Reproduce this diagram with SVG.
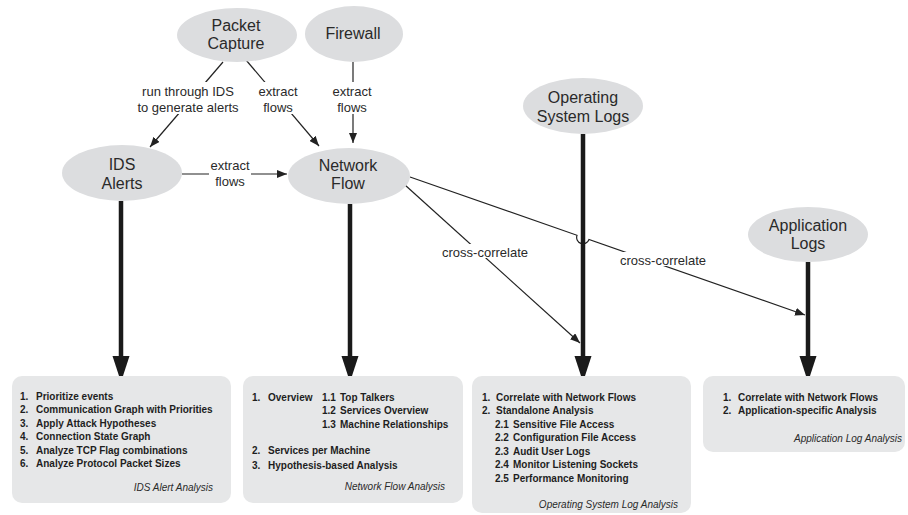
<svg xmlns="http://www.w3.org/2000/svg" width="908" height="515" viewBox="0 0 908 515">
<style>
.node{fill:#dcdddf;stroke:none}
.nl{font-family:"Liberation Sans",Arial,sans-serif;font-size:16px;fill:#2a2a2a;text-anchor:middle}
.cl{font-family:"Liberation Sans",Arial,sans-serif;font-size:13px;fill:#2a2a2a;text-anchor:middle}
.thin{stroke:#222;stroke-width:1.2;fill:none}
.thick{stroke:#1a1a1a;stroke-width:4.5;fill:none}
.head{fill:#1a1a1a;stroke:none}
.box{fill:#e6e7e8;stroke:none}
.bt{font-family:"Liberation Sans",Arial,sans-serif;font-size:10px;font-weight:bold;fill:#1e1e1e}
.tt{font-family:"Liberation Sans",Arial,sans-serif;font-size:10px;font-style:italic;fill:#2a2a2a;text-anchor:end}
.bg{fill:#ffffff}
</style>
<defs>
<marker id="ah" markerWidth="10" markerHeight="8" refX="10" refY="4" orient="auto" markerUnits="userSpaceOnUse">
<path d="M0,0 L10,4 L0,8 Z" fill="#222"/>
</marker>
</defs>

<g id="connectors">
<line class="thin" x1="223" y1="62" x2="150" y2="147" marker-end="url(#ah)"/>
<line class="thin" x1="246" y1="60" x2="319" y2="146" marker-end="url(#ah)"/>
<line class="thin" x1="353" y1="62" x2="353" y2="143" marker-end="url(#ah)"/>
<line class="thin" x1="182" y1="174" x2="287" y2="174" marker-end="url(#ah)"/>
<line class="thin" x1="405" y1="185" x2="580" y2="343" marker-end="url(#ah)"/>
<path class="thin" d="M410,177 L577,235.3 A6,6 0 0 0 589,239.5 L805,315" marker-end="url(#ah)"/>
<g id="label-bgs">
<rect class="bg" x="140" y="82" width="96" height="32"/>
<rect class="bg" x="258" y="82" width="40" height="32"/>
<rect class="bg" x="333" y="82" width="40" height="32"/>
<rect class="bg" x="209" y="156" width="42" height="32"/>
<rect class="bg" x="440" y="244" width="90" height="14"/>
<rect class="bg" x="618" y="252" width="90" height="14"/>
</g>
<text class="cl" x="188" y="96">run through IDS</text>
<text class="cl" x="188" y="112">to generate alerts</text>
<text class="cl" x="278" y="96">extract</text>
<text class="cl" x="278" y="112">flows</text>
<text class="cl" x="352" y="96">extract</text>
<text class="cl" x="352" y="112">flows</text>
<text class="cl" x="230" y="170">extract</text>
<text class="cl" x="230" y="186">flows</text>
<text class="cl" x="485" y="257">cross-correlate</text>
<text class="cl" x="663" y="265">cross-correlate</text>
<line class="thick" x1="121" y1="201" x2="121" y2="358"/>
<polygon class="head" points="112.5,356 129.5,356 121,382"/>
<line class="thick" x1="350" y1="204" x2="350" y2="358"/>
<polygon class="head" points="341.5,356 358.5,356 350,382"/>
<line class="thick" x1="583" y1="134" x2="583" y2="358"/>
<polygon class="head" points="574.5,356 591.5,356 583,382"/>
<line class="thick" x1="808" y1="262" x2="808" y2="358"/>
<polygon class="head" points="799.5,356 816.5,356 808,382"/>
</g>

<g id="packet-capture">
<ellipse class="node" cx="237" cy="35" rx="60" ry="27"/>
<text class="nl" x="236" y="31">Packet</text>
<text class="nl" x="236" y="49">Capture</text>
</g>
<g id="firewall">
<ellipse class="node" cx="354" cy="34" rx="49" ry="28"/>
<text class="nl" x="353" y="39">Firewall</text>
</g>
<g id="ids-alerts">
<ellipse class="node" cx="122" cy="173" rx="60" ry="28"/>
<text class="nl" x="122" y="170">IDS</text>
<text class="nl" x="122" y="189">Alerts</text>
</g>
<g id="network-flow">
<ellipse class="node" cx="349" cy="176" rx="61" ry="28"/>
<text class="nl" x="348" y="171">Network</text>
<text class="nl" x="348" y="189">Flow</text>
</g>
<g id="os-logs">
<ellipse class="node" cx="583" cy="106" rx="60" ry="28"/>
<text class="nl" x="583" y="103">Operating</text>
<text class="nl" x="583" y="122">System Logs</text>
</g>
<g id="app-logs">
<ellipse class="node" cx="808" cy="234.5" rx="60" ry="27.5"/>
<text class="nl" x="808" y="231">Application</text>
<text class="nl" x="808" y="249">Logs</text>
</g>

<g id="ids-alert-analysis">
<rect class="box" x="12" y="376" width="219" height="127" rx="10"/>
<g class="bt">
<text x="20" y="400">1.</text><text x="36" y="400">Prioritize events</text>
<text x="20" y="413.4">2.</text><text x="36" y="413.4">Communication Graph with Priorities</text>
<text x="20" y="426.8">3.</text><text x="36" y="426.8">Apply Attack Hypotheses</text>
<text x="20" y="440.2">4.</text><text x="36" y="440.2">Connection State Graph</text>
<text x="20" y="453.6">5.</text><text x="36" y="453.6">Analyze TCP Flag combinations</text>
<text x="20" y="467">6.</text><text x="36" y="467">Analyze Protocol Packet Sizes</text>
</g>
<text class="tt" x="213" y="491">IDS Alert Analysis</text>
</g>

<g id="network-flow-analysis">
<rect class="box" x="243" y="376" width="220" height="127" rx="10"/>
<g class="bt">
<text x="252" y="401">1.</text><text x="268" y="401">Overview</text>
<text x="322" y="401">1.1</text><text x="340" y="401">Top Talkers</text>
<text x="322" y="414">1.2</text><text x="340" y="414">Services Overview</text>
<text x="322" y="427.5">1.3</text><text x="340" y="427.5">Machine Relationships</text>
<text x="252" y="453.5">2.</text><text x="268" y="453.5">Services per Machine</text>
<text x="252" y="468.5">3.</text><text x="268" y="468.5">Hypothesis-based Analysis</text>
</g>
<text class="tt" x="445" y="490">Network Flow Analysis</text>
</g>

<g id="os-log-analysis">
<rect class="box" x="472" y="376" width="219" height="137" rx="10"/>
<g class="bt">
<text x="482" y="400.5">1.</text><text x="496" y="400.5">Correlate with Network Flows</text>
<text x="482" y="414">2.</text><text x="496" y="414">Standalone Analysis</text>
<text x="495" y="427.5">2.1</text><text x="513" y="427.5">Sensitive File Access</text>
<text x="495" y="441">2.2</text><text x="513" y="441">Configuration File Access</text>
<text x="495" y="454.5">2.3</text><text x="513" y="454.5">Audit User Logs</text>
<text x="495" y="468">2.4</text><text x="513" y="468">Monitor Listening Sockets</text>
<text x="495" y="481.5">2.5</text><text x="513" y="481.5">Performance Monitoring</text>
</g>
<text class="tt" x="678" y="508">Operating System Log Analysis</text>
</g>

<g id="app-log-analysis">
<rect class="box" x="703" y="376" width="202" height="76" rx="10"/>
<g class="bt">
<text x="723" y="400.5">1.</text><text x="738" y="400.5">Correlate with Network Flows</text>
<text x="723" y="414">2.</text><text x="738" y="414">Application-specific Analysis</text>
</g>
<text class="tt" x="902" y="441.5">Application Log Analysis</text>
</g>
</svg>
